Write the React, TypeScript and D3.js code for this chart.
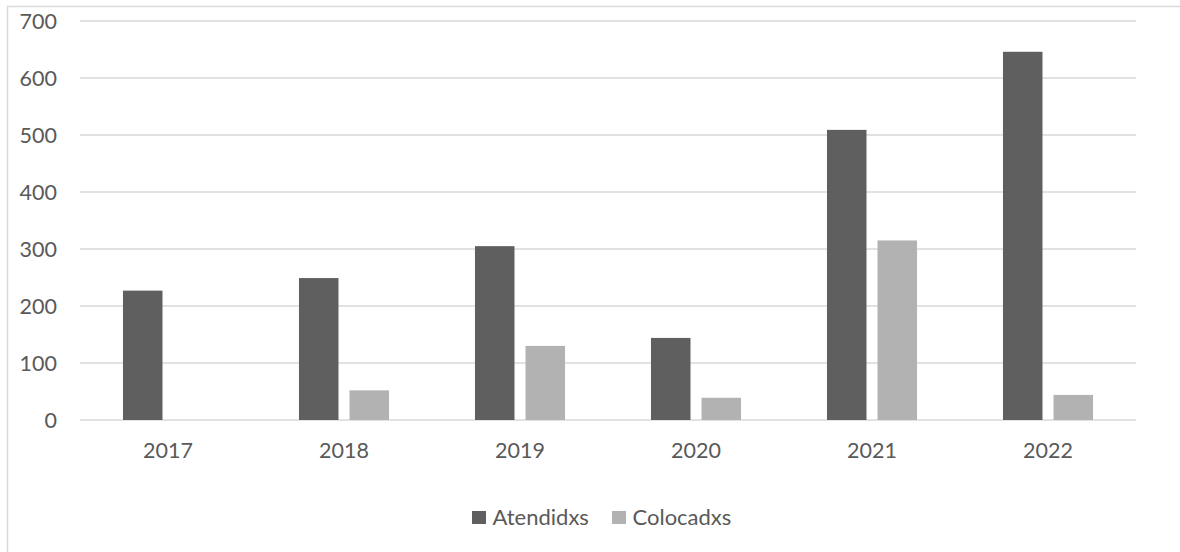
import React from "react";
import * as d3 from "d3";

const categories = ["2017", "2018", "2019", "2020", "2021", "2022"];
const atendidxs = [227, 249, 305, 144, 509, 646];
const colocadxs = [0, 52, 130, 39, 315, 44];
const seriesNames = ["Atendidxs", "Colocadxs"];
const yTicks = [0, 100, 200, 300, 400, 500, 600, 700];

const W = 1180;
const H = 552;
const colors = ["#5f5f5f", "#b2b2b2"];
const textColor = "#595959";
const font = "Lato, 'Open Sans', sans-serif";

export default function App() {
  const x = d3.scaleBand<string>().domain(categories).range([80, 1136]);
  const y = d3.scaleLinear().domain([0, 700]).range([420, 21]);
  const inner = d3
    .scaleBand<string>()
    .domain(seriesNames)
    .range([0, x.bandwidth()])
    .paddingInner(0.218)
    .paddingOuter(0.85);
  const series = [atendidxs, colocadxs];

  return (
    <div style={{ position: "absolute", left: 0, top: 0 }}>
      <svg width={W} height={H} style={{ display: "block" }}>
        <rect x={0} y={0} width={W} height={H} fill="#ffffff" />
        <rect x={7.5} y={6.5} width={W + 10} height={H + 10} fill="none" stroke="#d9d9d9" strokeWidth={1.5} />
        {yTicks.map((t) => (
          <g key={t}>
            <line x1={80} x2={1136} y1={y(t)} y2={y(t)} stroke="#d9d9d9" strokeWidth={1.5} />
            <text
              x={57}
              y={y(t)}
              dy="0.36em"
              textAnchor="end"
              fontFamily={font}
              fontSize={21.5}
              fill={textColor}
            >
              {t}
            </text>
          </g>
        ))}
        {categories.map((c, i) => (
          <g key={c}>
            {series.map((s, j) =>
              s[i] > 0 ? (
                <rect
                  key={j}
                  x={(x(c) as number) + (inner(seriesNames[j]) as number)}
                  y={y(s[i])}
                  width={inner.bandwidth()}
                  height={y(0) - y(s[i])}
                  fill={colors[j]}
                />
              ) : null
            )}
            <text
              x={(x(c) as number) + x.bandwidth() / 2}
              y={458}
              textAnchor="middle"
              fontFamily={font}
              fontSize={21.5}
              fill={textColor}
            >
              {c}
            </text>
          </g>
        ))}
        {seriesNames.map((n, j) => {
          const lx = [472, 612][j];
          return (
            <g key={n}>
              <rect x={lx} y={511} width={14} height={13} fill={colors[j]} />
              <text x={lx + 20.5} y={524.5} fontFamily={font} fontSize={22} fill={textColor}>
                {n}
              </text>
            </g>
          );
        })}
      </svg>
    </div>
  );
}
